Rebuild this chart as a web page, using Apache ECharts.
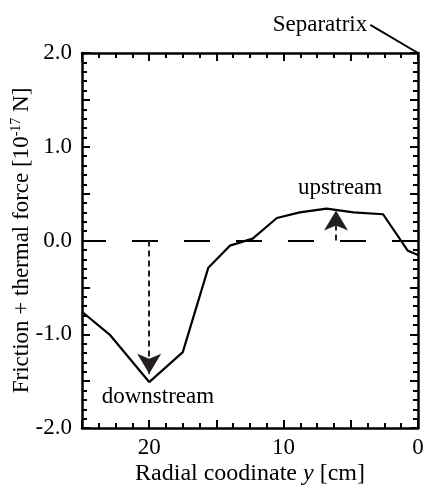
<!DOCTYPE html>
<html><head><meta charset="utf-8">
<script src="https://cdn.jsdelivr.net/npm/echarts@6/dist/echarts.min.js"></script>
<style>html,body{margin:0;padding:0;background:#fff}#c{width:428px;height:492px}</style>
</head><body><div id="c"></div>
<script>
// Data
const xs = [25, 22.9, 20.0, 17.5, 15.6, 14.0, 12.3, 10.5, 8.8, 6.8, 4.8, 2.6, 0.75, 0];
const ys = [-0.76, -1.01, -1.51, -1.19, -0.29, -0.055, 0.02, 0.24, 0.30, 0.34, 0.30, 0.28, -0.11, -0.155];
const xTickLabels = [0, 10, 20];
const yTickLabels = [-2, -1, 0, 1, 2];
const downArrow = [[20, 0], [20, -1.42]];
const upArrow = [[6.1, 0], [6.1, 0.32]];
const separatrixLine = [[3.55, 2.30], [0, 2.0]];
const textNotes = [
  {name: 'upstream', value: [5.8, 0.56]},
  {name: 'downstream', value: [19.35, -1.67]}
];

const FONT = 'Liberation Serif';
const ink = '#000';
const arrowInk = '#231f20';

function xAxisCfg(pos, showLabel) {
  return {
    type: 'value', position: pos, inverse: true, min: 0, max: 25, interval: 5,
    axisLine: {show: true, onZero: false, lineStyle: {color: ink, width: 2.5}},
    axisTick: {show: true, inside: true, length: 8, lineStyle: {color: ink, width: 2}},
    minorTick: {show: true, splitNumber: 4, length: 5, lineStyle: {color: ink, width: 2}},
    splitLine: {show: false},
    axisLabel: {show: showLabel, fontFamily: FONT, fontSize: 23, color: ink, margin: 8,
      formatter: v => xTickLabels.indexOf(v) >= 0 ? String(v) : ''}
  };
}
function yAxisCfg(pos, showLabel) {
  return {
    type: 'value', position: pos, min: -2, max: 2, interval: 0.5,
    axisLine: {show: true, onZero: false, lineStyle: {color: ink, width: 2.5}},
    axisTick: {show: true, inside: true, length: 8, lineStyle: {color: ink, width: 2}},
    minorTick: {show: true, splitNumber: 5, length: 5, lineStyle: {color: ink, width: 2}},
    splitLine: {show: false},
    axisLabel: {show: showLabel, fontFamily: FONT, fontSize: 23, color: ink, margin: 10,
      formatter: v => yTickLabels.indexOf(v) >= 0 ? v.toFixed(1) : ''}
  };
}

const chart = echarts.init(document.getElementById('c'));
const xb = xAxisCfg('bottom', true);
xb.name = '{a|Radial coodinate }{i|y}{a| [cm]}';
xb.nameLocation = 'middle';
xb.nameGap = 34;
xb.nameMoveOverlap = false;
xb.nameTextStyle = {fontFamily: FONT, color: ink, rich: {
  a: {fontFamily: FONT, fontSize: 24, color: ink},
  i: {fontFamily: FONT, fontSize: 24, color: ink, fontStyle: 'italic'}
}};
const yl = yAxisCfg('left', true);
yl.name = '{a|Friction + thermal force [10}{s|-17}{a| N]}';
yl.nameLocation = 'middle';
yl.nameRotate = 90;
yl.nameGap = 47;
yl.nameMoveOverlap = false;
yl.nameTextStyle = {fontFamily: FONT, color: ink, rich: {
  a: {fontFamily: FONT, fontSize: 23, color: ink, lineHeight: 26},
  s: {fontFamily: FONT, fontSize: 14, color: ink, verticalAlign: 'top', lineHeight: 26, padding: [0, 0, 10, 0]}
}};

chart.setOption({
  animation: false,
  grid: {left: 82, right: 10, top: 53, bottom: 64, containLabel: false, outerBoundsMode: 'none'},
  xAxis: [xb, xAxisCfg('top', false)],
  yAxis: [yl, yAxisCfg('right', false)],
  series: [
    {
      type: 'line', data: xs.map((x, i) => [x, ys[i]]), symbol: 'none',
      lineStyle: {color: ink, width: 2.2},
      markLine: {
        silent: true, symbol: ['none', 'none'],
        lineStyle: {color: ink, width: 2, type: [26, 26]},
        label: {show: false},
        data: [{yAxis: 0}]
      }
    },
    {
      type: 'line', data: [], symbol: 'none',
      markLine: {
        silent: true, symbol: ['none', 'arrow'], symbolSize: [18, 20],
        lineStyle: {color: arrowInk, width: 2, type: [6, 4]},
        itemStyle: {color: arrowInk},
        label: {show: false},
        data: [
          [{coord: downArrow[0]}, {coord: downArrow[1]}],
          [{coord: upArrow[0]}, {coord: upArrow[1]}]
        ]
      }
    },
    {
      type: 'line', data: separatrixLine, symbol: 'none', clip: false,
      lineStyle: {color: ink, width: 2}
    },
    {
      type: 'scatter', clip: false, symbolSize: 0.1,
      itemStyle: {color: 'rgba(0,0,0,0)'},
      data: textNotes.concat([{name: 'Separatrix', value: separatrixLine[0],
        label: {position: 'left', distance: 3}}]),
      label: {show: true, position: 'inside', formatter: p => p.name,
        fontFamily: FONT, fontSize: 23, color: ink, textBorderWidth: 0, textBorderColor: 'transparent', opacity: 1}
    }
  ]
});
</script></body></html>
